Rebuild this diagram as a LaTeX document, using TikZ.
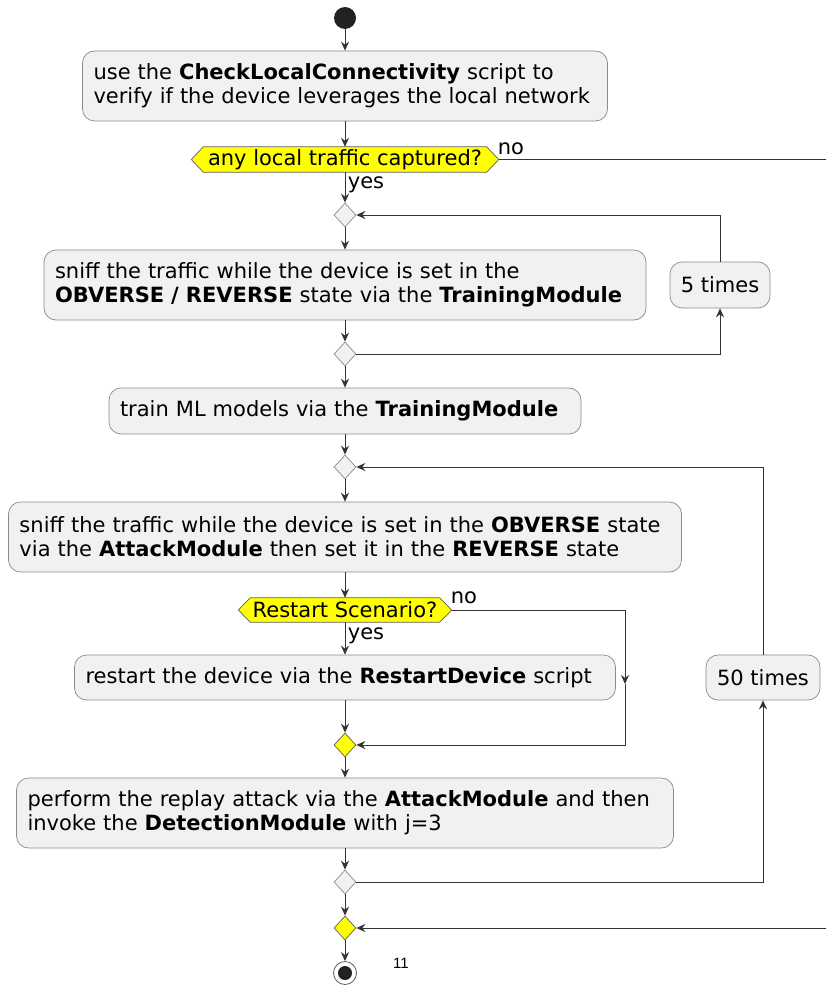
\documentclass[tikz,border=0pt]{standalone}
\usepackage{fontspec}
\setmainfont{DejaVu Sans}
\newfontfamily\numfont{Liberation Sans}
\usetikzlibrary{arrows.meta,shapes.geometric,backgrounds}
\definecolor{boxc}{HTML}{F1F1F1}
\definecolor{bordc}{HTML}{8A8A8A}
\definecolor{linec}{HTML}{333333}
\definecolor{dotc}{HTML}{222222}
\definecolor{yel}{HTML}{FFFF00}
\newcommand{\fsz}{\fontsize{21}{24}\selectfont}
\begin{document}
\begin{tikzpicture}[x=1pt,y=-1pt,
  actbox/.style={draw=bordc, fill=boxc, rounded corners=12pt, line width=0.7pt, inner xsep=11pt, inner ysep=0pt, align=left, font=\fsz, execute at begin node={\hyphenpenalty=10000\exhyphenpenalty=10000}},
  cntbox/.style={draw=bordc, fill=boxc, rounded corners=12pt, line width=0.7pt, inner sep=0pt, align=center, font=\fsz},
  hexa/.style={rectangle, inner sep=0pt, font=\fsz},
  hexfill/.style={draw=linec!80, fill=yel, line width=0.7pt},
  mrg/.style={diamond, draw=bordc, fill=boxc, line width=0.7pt, inner sep=0pt, minimum width=22pt, minimum height=24pt},
  ymrg/.style={diamond, draw=linec!80, fill=yel, line width=0.7pt, inner sep=0pt, minimum width=22pt, minimum height=24pt},
  arr/.style={draw=linec, line width=1pt, -{Stealth[length=9pt,width=8pt,inset=3pt]}},
  lbl/.style={font=\fsz, inner sep=0pt}]
\useasboundingbox (0,0) rectangle (826,987);

\node[circle, fill=dotc, minimum size=22pt, inner sep=0pt] (start) at (345,18) {};
\node[actbox, text width=503pt, minimum height=70pt] (b1) at (345,86) {use the \textbf{CheckLocalConnectivity} script to\\verify if the device leverages the local network};
\node[hexa, minimum width=283pt, minimum height=25pt] (d1) at (345,159.5) {any local traffic captured?};
\node[mrg] (m1) at (345,215) {};
\node[actbox, text width=580pt, minimum height=70pt] (b2) at (345,285) {sniff the traffic while the device is set in the\\\textbf{OBVERSE / REVERSE} state via the \textbf{TrainingModule}};
\node[cntbox, minimum width=100pt, minimum height=46pt] (t5) at (720,285) {5 times};
\node[mrg] (m2) at (345,354) {};
\node[actbox, text width=450pt, minimum height=46pt] (b3) at (345,411) {train ML models via the \textbf{TrainingModule}};
\node[mrg] (m3) at (345,467) {};
\node[actbox, text width=651pt, minimum height=70pt] (b4) at (345,537) {sniff the traffic while the device is set in the \textbf{OBVERSE} state\\via the \textbf{AttackModule} then set it in the \textbf{REVERSE} state};
\node[hexa, minimum width=189pt, minimum height=24pt] (d2) at (345,610) {Restart Scenario?};
\node[actbox, text width=519pt, minimum height=45pt] (b5) at (345,677.5) {restart the device via the \textbf{RestartDevice} script};
\node[cntbox, minimum width=114pt, minimum height=45pt] (t50) at (763,677.5) {50 times};
\node[ymrg] (m4) at (345,745) {};
\node[actbox, text width=635pt, minimum height=70pt] (b6) at (345,813) {perform the replay attack via the \textbf{AttackModule} and then\\invoke the \textbf{DetectionModule} with j=3};
\node[mrg] (m5) at (345,882) {};
\node[ymrg] (m6) at (345,928) {};
\node[circle, draw=linec!80, fill=white, line width=0.8pt, minimum size=23pt, inner sep=0pt] (endo) at (345,973) {};
\node[circle, fill=dotc, minimum size=14pt, inner sep=0pt] (endi) at (endo) {};
\node[font=\numfont\fontsize{15}{18}\selectfont, inner sep=0pt] (pg) at (401,963) {11};

\begin{scope}[on background layer]
  \fill[white] (0,0) rectangle (826,987);
  \path[hexfill] (d1.north west) -- (d1.north east) -- ([xshift=12pt]d1.east) -- (d1.south east) -- (d1.south west) -- ([xshift=-12pt]d1.west) -- cycle;
  \path[hexfill] (d2.north west) -- (d2.north east) -- ([xshift=12pt]d2.east) -- (d2.south east) -- (d2.south west) -- ([xshift=-12pt]d2.west) -- cycle;
\end{scope}

\coordinate (d1p) at ([xshift=12pt]d1.east);
\coordinate (d2p) at ([xshift=12pt]d2.east);
\coordinate (c1) at (625,610);
\coordinate (cm) at (625,684);
\coordinate (c2) at (625,745);
\coordinate (c3) at (840,159.5);
\coordinate (c4) at (840,928);

\draw[arr] (start) -- (b1);
\draw[arr] (b1) -- (d1);
\draw[arr] (d1) -- (m1);
\draw[arr] (m1) -- (b2);
\draw[arr] (b2) -- (m2);
\draw[arr] (m2) -- (b3);
\draw[arr] (b3) -- (m3);
\draw[arr] (m3) -- (b4);
\draw[arr] (b4) -- (d2);
\draw[arr] (d2) -- (b5);
\draw[arr] (b5) -- (m4);
\draw[arr] (m4) -- (b6);
\draw[arr] (b6) -- (m5);
\draw[arr] (m5) -- (m6);
\draw[arr] (m6) -- (endo);

\draw[arr] (m2.east) -| (t5.south);
\draw[arr] (t5.north) |- (m1.east);
\draw[arr] (m5.east) -| (t50.south);
\draw[arr] (t50.north) |- (m3.east);

\draw[arr] (d2p) -- (c1) -- (cm);
\draw[arr] (cm) -- (c2) -- (m4.east);
\draw[arr] (d1p) -- (c3) -- (c4) -- (m6.east);

\node[lbl] (no1) at (511,149) {no};
\node[lbl] (yes1) at (366,185) {yes};
\node[lbl] (no2) at (464,598) {no};
\node[lbl] (yes2) at (366,636) {yes};
\end{tikzpicture}
\end{document}
